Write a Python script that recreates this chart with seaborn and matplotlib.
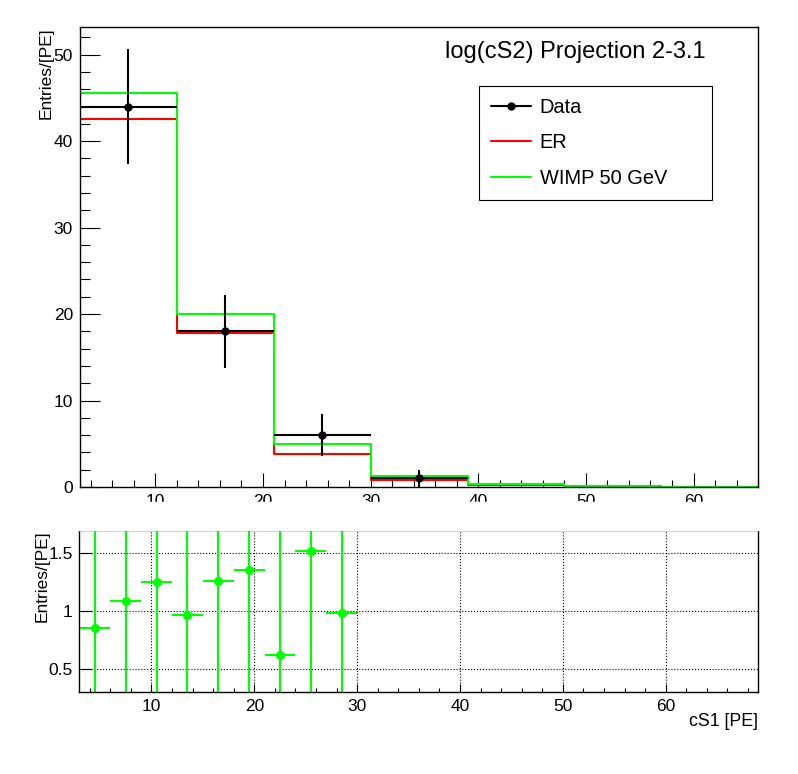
import numpy as np
import matplotlib
matplotlib.use("Agg")
import matplotlib.pyplot as plt
from matplotlib.lines import Line2D
from matplotlib.patches import Rectangle
from matplotlib.ticker import MultipleLocator
import seaborn as sns

# top panel: cS1 histograms in bins of 9 PE
bin_edges = [3, 12, 21, 30, 39, 48, 57, 66]
bin_centers = [7.5, 16.5, 25.5, 34.5, 43.5, 52.5, 61.5]
data_counts = [44, 18, 6, 1]
data_errors = [6.63, 4.24, 2.45, 1.0]
er_counts = [42.6, 17.8, 3.85, 0.85, 0.28, 0.1, 0.03]
wimp_counts = [45.6, 20.0, 5.0, 1.3, 0.3, 0.1, 0.04]

# bottom panel: entries per PE, 3 PE bins
ratio_x = [4.5, 7.5, 10.5, 13.5, 16.5, 19.5, 22.5, 25.5, 28.5]
ratio_y = [0.853, 1.089, 1.253, 0.965, 1.261, 1.356, 0.621, 1.52, 0.983]
ratio_yerr = [1.6, 1.5, 1.45, 1.55, 1.45, 1.4, 1.6, 1.35, 1.5]
ratio_xerr = [1.5] * 9

title_text = "log(cS2) Projection 2-3.1"
legend_labels = ["Data", "ER", "WIMP 50 GeV"]

sns.set_style("ticks")
plt.rcParams['font.family'] = ['Liberation Sans', 'DejaVu Sans']
plt.rcParams['axes.linewidth'] = 1.0
for key in ['axes.edgecolor', 'xtick.color', 'ytick.color', 'text.color',
            'axes.labelcolor']:
    plt.rcParams[key] = 'black'

fig = plt.figure(figsize=(7.98, 7.74), dpi=100)
ax_top = fig.add_axes([0.1003, 0.3708, 0.8497, 0.5943])
ax_bot = fig.add_axes([0.0996, 0.1055, 0.8506, 0.2097])

# histograms
sns.histplot(x=bin_centers, weights=er_counts, bins=bin_edges, element="step",
             fill=False, color="#ff0000", lw=1.5, ax=ax_top)
sns.histplot(x=bin_centers, weights=wimp_counts, bins=bin_edges, element="step",
             fill=False, color="#00ff00", lw=1.5, ax=ax_top)
ax_top.errorbar(bin_centers[:4], data_counts, yerr=data_errors, xerr=4.5,
                fmt='o', color='black', ms=5, lw=1.5, capsize=0, zorder=5)

ax_top.set_xlim(3, 66)
ax_top.set_ylim(0, 53.2)
ax_top.xaxis.set_major_locator(MultipleLocator(10))
ax_top.xaxis.set_minor_locator(MultipleLocator(2))
ax_top.yaxis.set_major_locator(MultipleLocator(10))
ax_top.yaxis.set_minor_locator(MultipleLocator(2))
ax_top.tick_params(axis='both', which='both', direction='in', width=0.8,
                   labelsize=12.5, top=False, right=False)
ax_top.tick_params(axis='y', which='major', length=14.4, pad=5)
ax_top.tick_params(axis='y', which='minor', length=7.2)
ax_top.tick_params(axis='x', which='major', length=10, pad=5)
ax_top.tick_params(axis='x', which='minor', length=5)
ax_top.set_xlabel("")
ax_top.set_ylabel("Entries/[PE]", fontsize=12.5, loc="top")
ax_top.yaxis.set_label_coords(-0.0387, 1.0)
for s in ax_top.spines.values():
    s.set_visible(True)

ax_top.text(0.730, 0.946, title_text, transform=ax_top.transAxes,
            ha='center', va='center', fontsize=17)

handles = [
    Line2D([], [], color='black', marker='o', ms=5, lw=1.5),
    Line2D([], [], color='#ff0000', lw=1.5),
    Line2D([], [], color='#00ff00', lw=1.5),
]
leg = ax_top.legend(handles, legend_labels, loc='upper left',
                    bbox_to_anchor=(0.588, 0.635, 0.344, 0.237), mode='expand',
                    fontsize=14.4, frameon=True, fancybox=False, framealpha=1,
                    edgecolor='black', borderpad=0.6, labelspacing=0.82,
                    handlelength=2.0, handletextpad=0.45, borderaxespad=0)
leg.get_frame().set_linewidth(0.8)

# the lower pad hides the bottom of the top tick labels
fig.add_artist(Rectangle((0, 0.3152), 1, 1 - 502 / 774 - 0.3152,
                         transform=fig.transFigure, color='white', zorder=3))

# bottom panel
ax_bot.errorbar(ratio_x, ratio_y, yerr=ratio_yerr, xerr=ratio_xerr, fmt='o',
                color='#00ff00', ms=5.5, lw=1.5, capsize=0)
ax_bot.set_xlim(3, 69)
ax_bot.set_ylim(0.3, 1.7)
ax_bot.xaxis.set_major_locator(MultipleLocator(10))
ax_bot.xaxis.set_minor_locator(MultipleLocator(2))
ax_bot.set_yticks([0.5, 1, 1.5], ["0.5", "1", "1.5"])
ax_bot.grid(True, which='major', color='black', linestyle=':', lw=0.8)
ax_bot.tick_params(axis='both', which='both', direction='in', width=0.8,
                   labelsize=12.5)
ax_bot.tick_params(axis='y', which='major', length=9.4, pad=5)
ax_bot.tick_params(axis='x', which='major', length=5.8, pad=5)
ax_bot.tick_params(axis='x', which='minor', length=3)
ax_bot.set_ylabel("Entries/[PE]", fontsize=12.5, loc="top")
ax_bot.yaxis.set_label_coords(-0.0447, 1.0)
ax_bot.set_xlabel("cS1 [PE]", fontsize=12.8, loc="right")
ax_bot.xaxis.set_label_coords(1.0, -0.125)
for s in ax_bot.spines.values():
    s.set_visible(True)

fig.savefig("out.png", dpi=100)
